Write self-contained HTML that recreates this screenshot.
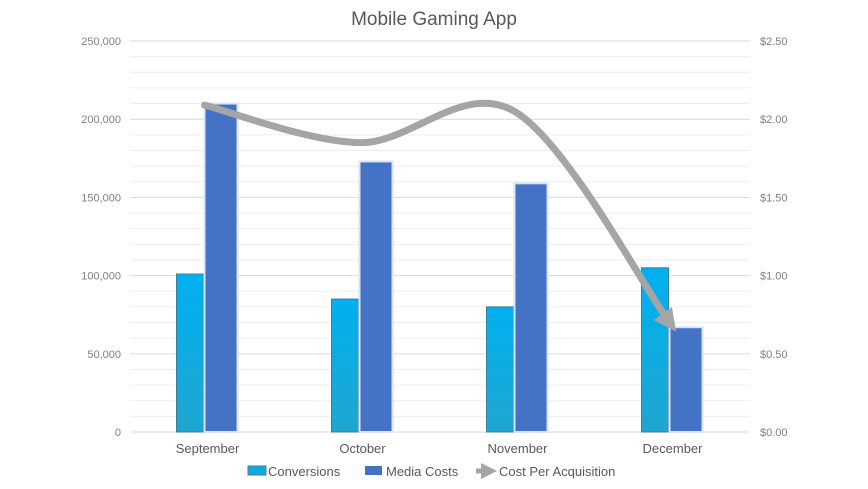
<!DOCTYPE html>
<html><head><meta charset="utf-8"><style>
body{margin:0;background:#fff;font-family:"Liberation Sans",sans-serif;}
svg{display:block}
</style></head><body>
<svg id="chart" width="868" height="489" viewBox="0 0 868 489">
<defs>
<linearGradient id="gc" x1="0" y1="0" x2="0" y2="1"><stop offset="0" stop-color="#00b0f0"/><stop offset="1" stop-color="#1fa6d0"/></linearGradient>
<marker id="arr" viewBox="0 0 10 10" refX="5" refY="5" markerWidth="3.2" markerHeight="3.2" orient="auto"><path d="M0,0 L10,5 L0,10 z" fill="#a5a5a5"/></marker>
</defs>
<text x="434" y="25" text-anchor="middle" font-size="19" fill="#595959">Mobile Gaming App</text>
<g id="grid"></g><g id="bars"></g><g id="line"></g><g id="axes"></g>
<g>
<rect x="248" y="466" width="18" height="9" fill="url(#gc)" stroke="#4a7a8c"/>
<text x="268" y="476" font-size="13" fill="#595959">Conversions</text>
<rect x="365" y="466" width="17" height="9" fill="#4472c4"/>
<text x="386" y="476" font-size="13" fill="#595959">Media Costs</text>
<line x1="476" y1="471" x2="489" y2="471" stroke="#a5a5a5" stroke-width="5" marker-end="url(#arr)"/>
<text x="499" y="476" font-size="13" fill="#595959">Cost Per Acquisition</text>
</g>
</svg>
<script>
const categories=["September","October","November","December"];
const conversions=[101000,85000,80000,105000];
const mediaCosts=[210000,173000,159000,67000];
const cpa=[2.09,1.85,2.05,0.70];
const leftTicks=["0","50,000","100,000","150,000","200,000","250,000"];
const rightTicks=["$0.00","$0.50","$1.00","$1.50","$2.00","$2.50"];
const NS="http://www.w3.org/2000/svg";
const x0=130,x1=750,yB=432,yT=41;
const yL=v=>yB-(v/250000)*(yB-yT);
const yR=v=>yB-(v/2.5)*(yB-yT);
const band=(x1-x0)/categories.length;
const xc=i=>x0+band*(i+0.5);
function mk(tag,attrs,parent){const e=document.createElementNS(NS,tag);for(const k in attrs)e.setAttribute(k,attrs[k]);document.getElementById(parent).appendChild(e);return e;}
for(let v=0;v<=250000;v+=10000){
 const l=mk('line',{x1:x0,x2:x1,y1:yL(v),y2:yL(v),stroke:v%50000===0?'#d9d9d9':'#ededed','stroke-width':1},'grid');
 
 
}
leftTicks.forEach((t,i)=>{
 const e=mk('text',{x:121,y:yL(i*50000)+4,'text-anchor':'end','font-size':11,fill:'#808080'},'axes');e.textContent=t;
 
 
});
rightTicks.forEach((t,i)=>{
 const e=mk('text',{x:760,y:yR(i*0.5)+4,'font-size':11,fill:'#808080'},'axes');e.textContent=t;
 
 
});
categories.forEach((c,i)=>{
 const e=mk('text',{x:xc(i),y:453,'text-anchor':'middle','font-size':13,fill:'#595959'},'axes');e.textContent=c;
 
 
 const b1=mk('rect',{x:xc(i)-31,y:yL(conversions[i]),width:27,height:yB-yL(conversions[i]),fill:'url(#gc)',stroke:'#3d7f95','stroke-width':1},'bars');
 
 
 const b2=mk('rect',{x:xc(i)-3,y:yL(mediaCosts[i]),width:33,height:yB-yL(mediaCosts[i]),fill:'#4472c4',stroke:'#dce4f2','stroke-width':2},'bars');
 
 
});
const pts=cpa.map((v,i)=>[xc(i)-3,yR(v)]);
let d=`M${pts[0][0]},${pts[0][1]}`;
for(let i=0;i<pts.length-1;i++){
 const p0=pts[i-1]||pts[i],p1=pts[i],p2=pts[i+1],p3=pts[i+2]||p2;
 const t=0.5/3;
 d+=` C${p1[0]+(p2[0]-p0[0])*t},${p1[1]+(p2[1]-p0[1])*t} ${p2[0]-(p3[0]-p1[0])*t},${p2[1]-(p3[1]-p1[1])*t} ${p2[0]},${p2[1]}`;
}
const ln=mk('path',{d:d,fill:'none',stroke:'#a5a5a5','stroke-width':7,'stroke-linecap':'round','marker-end':'url(#arr)'},'line');


</script>
</body></html>
